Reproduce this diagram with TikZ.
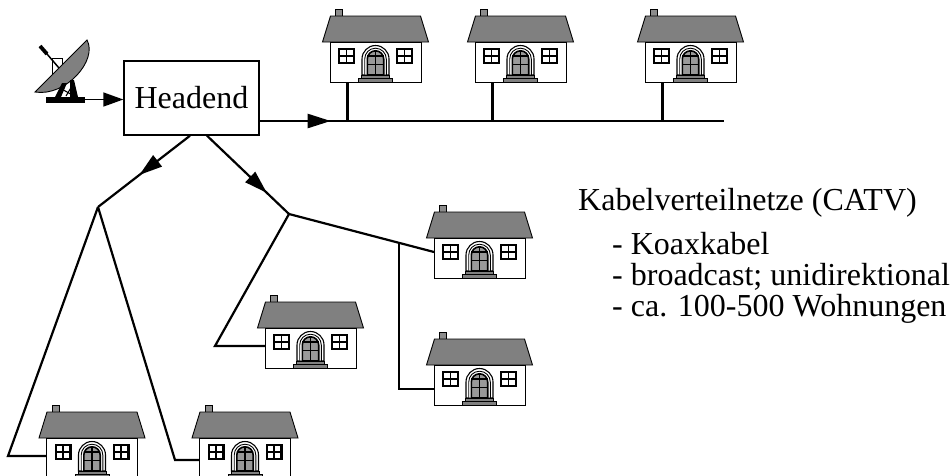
\documentclass[tikz,border=0pt]{standalone}
\usepackage{fontspec}
\setmainfont{Liberation Serif}
\usetikzlibrary{arrows.meta,decorations.markings,calc}
\definecolor{roofgray}{gray}{0.5}
\definecolor{chimgray}{gray}{0.55}
\definecolor{doorgray}{gray}{0.6}
\definecolor{stepgray}{gray}{0.5}
\begin{document}
\begin{tikzpicture}[x=1pt,y=-1pt,
  conn/.style={line width=2.2pt},
  hline/.style={line width=0.9pt},
  midarrow/.style={decoration={markings, mark=at position #1 with {\arrow{Triangle[length=23pt,width=14pt]}}}, postaction={decorate}},
  txt/.style={font=\fontsize{32}{36}\selectfont, inner sep=0pt, anchor=base west},
  house/.pic={
    % chimney and roof
    \draw[hline, fill=chimgray] (-40,-33) rectangle (-33,-25);
    \draw[hline, fill=roofgray] (-53,0) -- (-45,-26) -- (45,-26) -- (53,0) -- cycle;
    % walls
    \draw[hline, fill=white] (-45.5,0) rectangle (45.5,40);
    % windows
    \foreach \wx in {-29,29}{
      \fill[black] (\wx-8.5,6) rectangle (\wx+8.5,22);
      \fill[white] (\wx-6.3,8.2) rectangle (\wx-0.8,13.3);
      \fill[white] (\wx+0.8,8.2) rectangle (\wx+6.3,13.3);
      \fill[white] (\wx-6.3,14.8) rectangle (\wx-0.8,19.8);
      \fill[white] (\wx+0.8,14.8) rectangle (\wx+6.3,19.8);
    }
    % arched door
    \draw[line width=1.1pt, fill=white] (-13.5,33) -- (-13.5,17) arc[start angle=180,end angle=0,radius=13.5pt] -- (13.5,33) -- cycle;
    \draw[hline, fill=white] (-10.8,33) -- (-10.8,17) arc[start angle=180,end angle=0,radius=10.8pt] -- (10.8,33) -- cycle;
    \draw[line width=1.6pt, fill=doorgray] (-8.2,33) -- (-8.2,17) arc[start angle=180,end angle=0,radius=8.2pt] -- (8.2,33) -- cycle;
    \draw[line width=1.3pt] (0,9) -- (0,33) (-8.2,22.5) -- (8.2,22.5) (-8.2,14) -- (8.2,14);
    % steps
    \draw[hline, fill=stepgray] (-14,33) rectangle (14,36.5);
    \draw[hline, fill=stepgray] (-17,36.5) rectangle (17,40);
    \coordinate (-w) at (-45.5,0);
    \coordinate (-drop) at (-28,40);
  }
]
\useasboundingbox (0,0) rectangle (950,475);

% houses
\pic (h1) at (375.5,42) {house};
\pic (h2) at (520.5,42) {house};
\pic (h3) at (690.5,42) {house};
\pic (h4) at (479.5,238) {house};
\pic (h5) at (479.5,365) {house};
\pic (h6) at (310.5,328) {house};
\pic (h7) at (92,438) {house};
\pic (h8) at (245,438) {house};

% head end
\node[draw, line width=1.4pt, minimum width=135pt, minimum height=74pt, inner sep=0pt,
      font=\fontsize{32}{36}\selectfont] (hd) at (191.5,98) {Headend};

% satellite dish
\draw[line width=0.7pt] (52,58) rectangle (62,73);
\draw[hline, fill=roofgray] (87,40) .. controls (98,60) and (66,97) .. (35,92) -- cycle;
\draw[line width=1.5pt] (41,47) -- (59,68);
\draw[line width=3.8pt] (40,46) -- (47,54);
\fill (55,97) -- (62,83) -- (67,83) -- (61,97) -- cycle;
\fill (70,97) -- (70,80) -- (74,80) -- (78,97) -- cycle;
\draw[line width=1.1pt] (60,88) -- (74,96) (66,96) -- (72,86);
\fill (46,96.5) rectangle (85,103);
\coordinate (dish) at (85,99.5);
\draw[line width=1.6pt, -{Triangle[length=20pt,width=14pt]}] (dish) -- (dish -| hd.west);

% bus line to the row of houses
\coordinate (busend) at (724,121);
\draw[conn, midarrow=0.153] ([yshift=-23pt]hd.east) -- (busend);
\draw[conn] (h1-drop) -- (h1-drop |- busend);
\draw[conn] (h2-drop) -- (h2-drop |- busend);
\draw[conn] (h3-drop) -- (h3-drop |- busend);

% tree network
\coordinate (ja) at (98,207);
\coordinate (jb) at (289,214);
\draw[conn, midarrow=0.55] ([xshift=-1.5pt]hd.south) -- (ja);
\draw[conn, midarrow=0.73] ([xshift=15.5pt]hd.south) -- (jb);

\coordinate (ka) at (8,456);
\draw[conn] (ja) -- (ka) -- (ka -| h7-w);
\coordinate (kb) at (175,460);
\draw[conn] (ja) -- (kb) -- (kb -| h8-w);

\coordinate (h4in) at ($(h4-w)+(0,14)$);
\draw[conn] (jb) -- (h4in);
\coordinate (jc) at ($(jb)!0.759!(h4in)$);
\coordinate (kd) at (jc |- 0,389);
\draw[conn] (jc) -- (kd) -- (kd -| h5-w);
\coordinate (ke) at (215,346);
\draw[conn] (jb) -- (ke) -- (ke -| h6-w);

% legend text
\node[txt] (t0) at (578,210) {Kabelverteilnetze (CATV)};
\node[txt] (t1) at (612,254) {- Koaxkabel};
\node[txt] (t2) at (612,285) {- broadcast; unidirektional};
\node[txt] (t3) at (612,316) {- ca. 100-500 Wohnungen};
\end{tikzpicture}
\end{document}
